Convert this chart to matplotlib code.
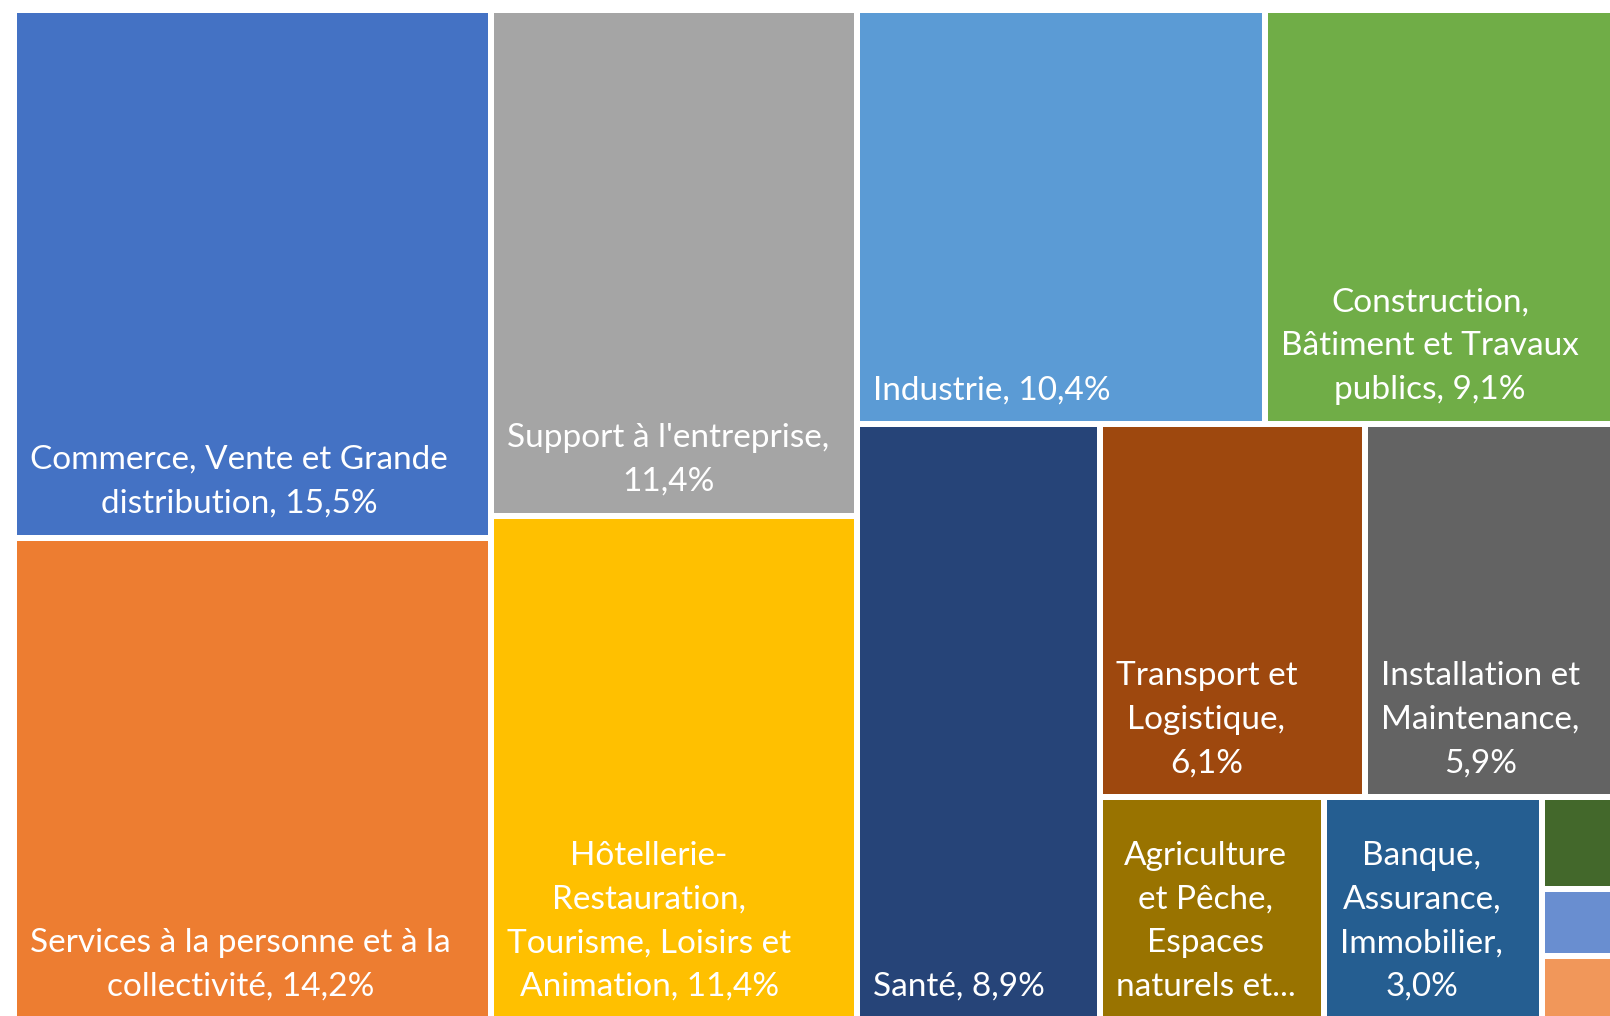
import matplotlib.pyplot as plt
from matplotlib.patches import Rectangle

# treemap data (share of offers, %)
names = ["Commerce, Vente et Grande distribution", "Services à la personne et à la collectivité",
         "Support à l'entreprise", "Hôtellerie-Restauration, Tourisme, Loisirs et Animation",
         "Industrie", "Construction, Bâtiment et Travaux publics", "Santé",
         "Transport et Logistique", "Installation et Maintenance",
         "Agriculture et Pêche, Espaces naturels et Espaces verts, Soins aux animaux",
         "Banque, Assurance, Immobilier", "Communication, Média et Multimédia",
         "Spectacle", "Arts et Façonnage d'ouvrages d'art"]
values = [15.5, 14.2, 11.4, 11.4, 10.4, 9.1, 8.9, 6.1, 5.9, 3.1, 3.0, 0.45, 0.33, 0.32]
labels = ["Commerce, Vente et Grande\ndistribution, 15,5%",
          "Services à la personne et à la\ncollectivité, 14,2%",
          "Support à l'entreprise,\n11,4%",
          "Hôtellerie-\nRestauration,\nTourisme, Loisirs et\nAnimation, 11,4%",
          "Industrie, 10,4%",
          "Construction,\nBâtiment et Travaux\npublics, 9,1%",
          "Santé, 8,9%",
          "Transport et\nLogistique,\n6,1%",
          "Installation et\nMaintenance,\n5,9%",
          "Agriculture\net Pêche,\nEspaces\nnaturels et...",
          "Banque,\nAssurance,\nImmobilier,\n3,0%",
          "", "", ""]
colors = ["#4472C4", "#ED7D31", "#A5A5A5", "#FFC000", "#5B9BD5", "#70AD47",
          "#264478", "#9E480E", "#636363", "#997300", "#255E91", "#43682B",
          "#698ED0", "#F1975A"]

# nesting of the treemap: 'h' = side by side, 'v' = stacked
layout = ('h', [('v', [0, 1]), ('v', [2, 3]),
                ('v', [('h', [4, 5]),
                       ('h', [6, ('v', [('h', [7, 8]),
                                        ('h', [9, 10, ('v', [11, 12, 13])])])])])])

W, H = 1610, 1016
X0, Y0, X1, Y1 = 14, 10, 1622, 1021
GAP = 3


def total(node):
    if isinstance(node, int):
        return values[node]
    return sum(total(c) for c in node[1])


def place(node, x, y, w, h, out):
    if isinstance(node, int):
        out[node] = (x, y, w, h)
        return
    kind, kids = node
    s = total(node)
    for c in kids:
        f = total(c) / s
        if kind == 'h':
            place(c, x, y, w * f, h, out)
            x += w * f
        else:
            place(c, x, y, w, h * f, out)
            y += h * f


rects = {}
place(layout, X0, Y0, X1 - X0, Y1 - Y0, rects)

fig = plt.figure(figsize=(W / 100, H / 100), dpi=100)
ax = fig.add_axes([0, 0, 1, 1])
ax.set_xlim(0, W)
ax.set_ylim(H, 0)
ax.axis('off')

for i in range(len(values)):
    x, y, w, h = rects[i]
    ax.add_patch(Rectangle((x + GAP, y + GAP), w - 2 * GAP, h - 2 * GAP,
                           facecolor=colors[i], edgecolor='none'))
    if labels[i]:
        ax.text(x + GAP + 13, y + h - GAP - 22, labels[i], color='white',
                fontsize=24, family='Lato', ha='left', va='baseline',
                multialignment='center', linespacing=1.57)

fig.savefig('out.png', dpi=100, facecolor='white')
